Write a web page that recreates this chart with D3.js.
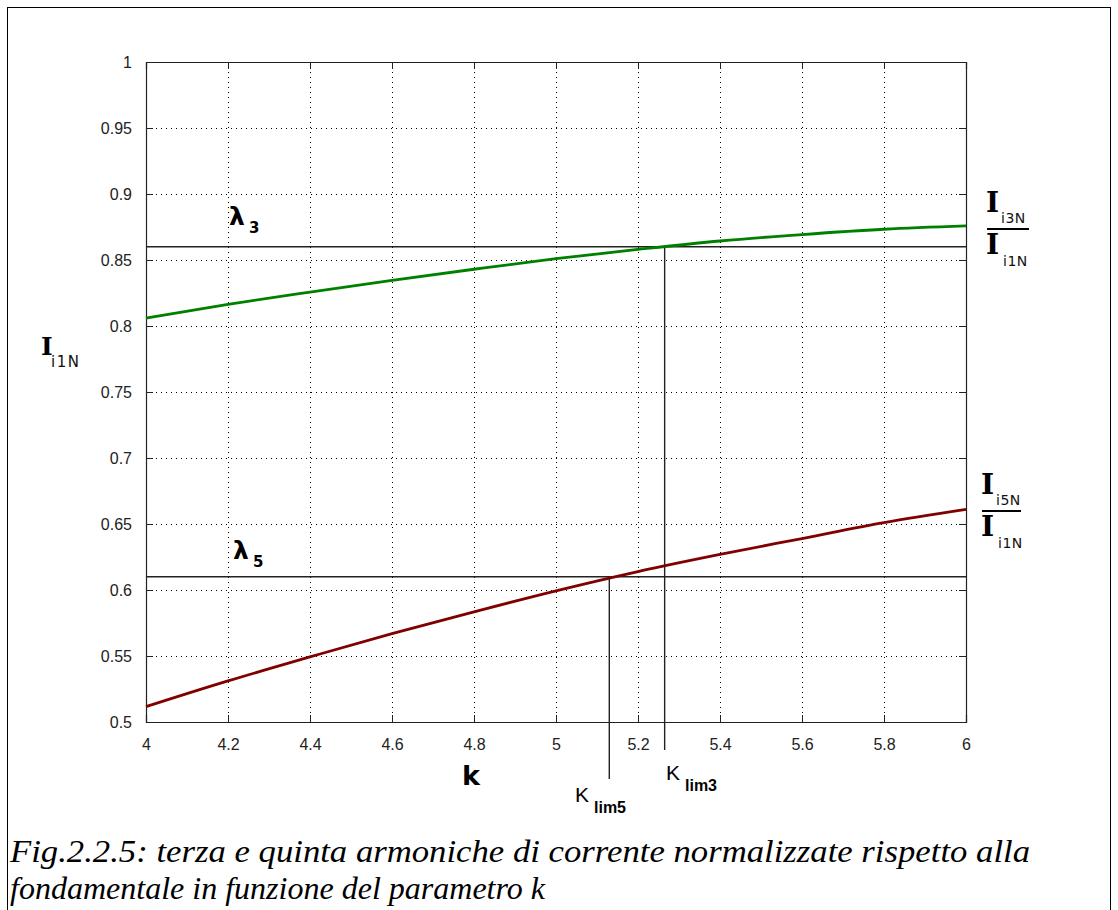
<!DOCTYPE html>
<html>
<head>
<meta charset="utf-8">
<script src="https://cdn.jsdelivr.net/npm/d3@7"></script>
<style>
  body { margin: 0; background: #fff; }
  svg { display: block; }
</style>
</head>
<body>
<div id="chart"></div>
<script>
// values
var kValues  = [4, 4.2, 4.4, 4.6, 4.8, 5, 5.2, 5.4, 5.6, 5.8, 6];
var i3Values = [0.806, 0.8164, 0.8257, 0.8346, 0.843, 0.851, 0.858, 0.8644, 0.8693, 0.8733, 0.8758];
var i5Values = [0.5116, 0.5311, 0.5493, 0.567, 0.5835, 0.5994, 0.614, 0.627, 0.639, 0.651, 0.661];

var xTicks = [4, 4.2, 4.4, 4.6, 4.8, 5, 5.2, 5.4, 5.6, 5.8, 6];
var yTicks = [0.5, 0.55, 0.6, 0.65, 0.7, 0.75, 0.8, 0.85, 0.9, 0.95, 1];

var lambda3 = 0.86, lambda5 = 0.61;
var kLim3 = 5.265, kLim5 = 5.13;

var captionLines = [
  "Fig.2.2.5: terza e quinta armoniche di corrente normalizzate rispetto alla",
  "fondamentale in funzione del parametro k"
];

var W = 1118, H = 910;
var plot = { left: 146, top: 62, right: 966, bottom: 722 };
var tickLen = 7;
var tickFont = '"Liberation Sans", Arial, sans-serif';

var svg = d3.select('#chart').append('svg')
    .attr('width', W)
    .attr('height', H);

svg.append('rect').attr('width', W).attr('height', H).attr('fill', '#fff');

// outer frame
svg.append('rect')
    .attr('x', 7.5).attr('y', 7.5)
    .attr('width', 1103).attr('height', 920)
    .attr('fill', 'none')
    .attr('stroke', '#000')
    .attr('stroke-width', 1);

var x = d3.scaleLinear().domain([4, 6]).range([plot.left, plot.right]);
var y = d3.scaleLinear().domain([0.5, 1]).range([plot.bottom, plot.top]);

var fmt = function(d) { return String(+d.toFixed(2)); };

// dotted grid
var grid = svg.append('g')
    .attr('stroke', '#000')
    .attr('stroke-width', 1)
    .attr('stroke-dasharray', '1,4');

grid.selectAll('line.vx').data(xTicks.slice(1, -1)).enter().append('line')
    .attr('x1', function(d) { return Math.round(x(d)) + 0.5; })
    .attr('x2', function(d) { return Math.round(x(d)) + 0.5; })
    .attr('y1', plot.top).attr('y2', plot.bottom);

grid.selectAll('line.hy').data(yTicks.slice(1, -1)).enter().append('line')
    .attr('y1', function(d) { return Math.round(y(d)) + 0.5; })
    .attr('y2', function(d) { return Math.round(y(d)) + 0.5; })
    .attr('x1', plot.left).attr('x2', plot.right);

// axes with inward ticks, box style
var axisColor = '#222';
var bottomAxis = d3.axisBottom(x).tickValues(xTicks).tickSize(-tickLen).tickPadding(tickLen + 10).tickFormat(fmt);
var topAxis = d3.axisTop(x).tickValues(xTicks).tickSize(-tickLen).tickFormat('');
var leftAxis = d3.axisLeft(y).tickValues(yTicks).tickSize(-tickLen).tickPadding(tickLen + 7).tickFormat(fmt);
var rightAxis = d3.axisRight(y).tickValues(yTicks).tickSize(-tickLen).tickFormat('');

function styleAxis(g) {
  g.attr('font-family', tickFont).attr('font-size', 16);
  g.select('.domain').attr('stroke', axisColor);
  g.selectAll('.tick line').attr('stroke', axisColor);
  g.selectAll('.tick text').attr('fill', '#222');
}

svg.append('g').attr('transform', 'translate(0,' + plot.bottom + ')').call(bottomAxis).call(styleAxis);
svg.append('g').attr('transform', 'translate(0,' + plot.top + ')').call(topAxis).call(styleAxis);
svg.append('g').attr('transform', 'translate(' + plot.left + ',0)').call(leftAxis).call(styleAxis);
svg.append('g').attr('transform', 'translate(' + plot.right + ',0)').call(rightAxis).call(styleAxis);

svg.selectAll('.domain').attr('stroke-width', 1.2);

// threshold lines
var refColor = '#222';
svg.append('line')
    .attr('x1', plot.left).attr('x2', plot.right)
    .attr('y1', y(lambda3)).attr('y2', y(lambda3))
    .attr('stroke', refColor).attr('stroke-width', 1.4);
svg.append('line')
    .attr('x1', plot.left).attr('x2', plot.right)
    .attr('y1', y(lambda5)).attr('y2', y(lambda5))
    .attr('stroke', refColor).attr('stroke-width', 1.4);

svg.append('line')
    .attr('x1', x(kLim3)).attr('x2', x(kLim3))
    .attr('y1', y(lambda3)).attr('y2', plot.bottom + 28)
    .attr('stroke', refColor).attr('stroke-width', 1.4);
svg.append('line')
    .attr('x1', x(kLim5)).attr('x2', x(kLim5))
    .attr('y1', y(lambda5)).attr('y2', plot.bottom + 57)
    .attr('stroke', refColor).attr('stroke-width', 1.4);

// curves
var line = d3.line()
    .x(function(d) { return x(d[0]); })
    .y(function(d) { return y(d[1]); })
    .curve(d3.curveMonotoneX);

svg.append('path')
    .datum(d3.zip(kValues, i3Values))
    .attr('d', line)
    .attr('fill', 'none')
    .attr('stroke', '#008000')
    .attr('stroke-width', 2.8);

svg.append('path')
    .datum(d3.zip(kValues, i5Values))
    .attr('d', line)
    .attr('fill', 'none')
    .attr('stroke', '#800000')
    .attr('stroke-width', 2.8);

// labels
var serifBold = '"DejaVu Serif", "Liberation Serif", serif';
var sans = '"DejaVu Sans", Verdana, sans-serif';

function bigI(px, py, size) {
  svg.append('text')
      .attr('x', px).attr('y', py)
      .attr('font-family', serifBold)
      .attr('font-weight', 'bold')
      .attr('font-size', size || 27)
      .attr('fill', '#000')
      .text('I');
}
function sub(px, py, t, size, spacing) {
  svg.append('text')
      .attr('x', px).attr('y', py)
      .attr('font-family', sans)
      .attr('font-size', size || 13)
      .attr('letter-spacing', spacing || 0)
      .attr('fill', '#111')
      .text(t);
}

// y label
bigI(41, 355, 25);
sub(51, 367, 'i1N', 15, 1.5);

// lambda labels
function lambdaLabel(px, py, n) {
  svg.append('text')
      .attr('x', px).attr('y', py)
      .attr('font-family', '"DejaVu Sans", sans-serif')
      .attr('font-weight', 'bold')
      .attr('font-size', 25)
      .attr('fill', '#000')
      .text('\u03bb');
  svg.append('text')
      .attr('x', px + 20).attr('y', py + 8)
      .attr('font-family', '"DejaVu Sans", sans-serif')
      .attr('font-weight', 'bold')
      .attr('font-size', 15)
      .attr('fill', '#000')
      .text(n);
}
lambdaLabel(229, 225, '3');
lambdaLabel(233, 559, '5');

// right-hand ratio labels
function ratioLabel(px, py, n, barW, subX2) {
  bigI(px, py, 28);
  sub(px + 15, py + 11, 'i' + n + 'N', 14, 0.5);
  svg.append('line')
      .attr('x1', px + 1).attr('x2', px + 1 + barW)
      .attr('y1', py + 17).attr('y2', py + 17)
      .attr('stroke', '#000').attr('stroke-width', 2);
  bigI(px, py + 42, 28);
  sub(px + subX2, py + 54, 'i1N', 14, 0.5);
}
ratioLabel(986, 212, '3', 42, 17);
ratioLabel(981, 494, '5', 39, 17);

// k label
svg.append('text')
    .attr('x', 462).attr('y', 785)
    .attr('font-family', '"DejaVu Sans", sans-serif')
    .attr('font-weight', 'bold')
    .attr('font-size', 27)
    .attr('fill', '#000')
    .text('k');

function kLimLabel(px, py, n) {
  svg.append('text')
      .attr('x', px).attr('y', py)
      .attr('font-family', tickFont)
      .attr('font-size', 21)
      .attr('fill', '#000')
      .text('K');
  svg.append('text')
      .attr('x', px + 19).attr('y', py + 11)
      .attr('font-family', tickFont)
      .attr('font-weight', 'bold')
      .attr('font-size', 16)
      .attr('fill', '#000')
      .text('lim' + n);
}
kLimLabel(575, 802, '5');
kLimLabel(666, 780, '3');

// caption
var capWidths = [1020, 535];
svg.selectAll('text.caption').data(captionLines).enter().append('text')
    .attr('class', 'caption')
    .attr('x', 10)
    .attr('y', function(d, i) { return 862 + i * 37; })
    .attr('font-family', '"Liberation Serif", "Times New Roman", serif')
    .attr('font-style', 'italic')
    .attr('font-size', 32)
    .attr('textLength', function(d, i) { return capWidths[i]; })
    .attr('lengthAdjust', 'spacingAndGlyphs')
    .attr('fill', '#000')
    .text(function(d) { return d; });
</script>
</body>
</html>
